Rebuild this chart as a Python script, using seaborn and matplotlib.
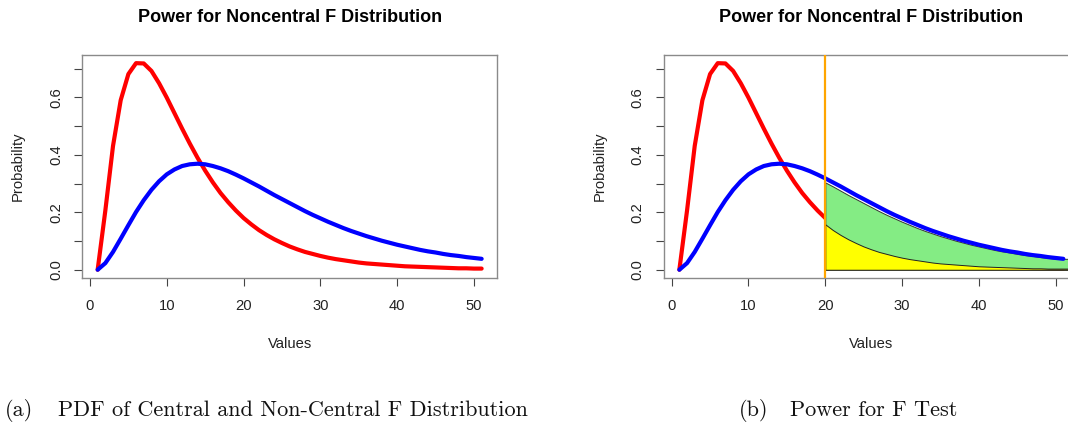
import matplotlib
matplotlib.use("Agg")
import matplotlib.pyplot as plt
import numpy as np
import seaborn as sns

# Valeurs (index 1..51)
valeurs = np.arange(1, 52)
densite_centrale = [
    0.000, 0.206, 0.431, 0.590, 0.681, 0.719, 0.718, 0.692, 0.649, 0.599,
    0.545, 0.491, 0.439, 0.390, 0.345, 0.304, 0.267, 0.235, 0.206, 0.180,
    0.158, 0.138, 0.121, 0.106, 0.093, 0.081, 0.071, 0.062, 0.055, 0.048,
    0.042, 0.037, 0.033, 0.029, 0.025, 0.022, 0.020, 0.018, 0.016, 0.014,
    0.012, 0.011, 0.010, 0.009, 0.008, 0.007, 0.006, 0.005, 0.005, 0.004,
    0.004,
]
densite_non_centrale = [
    0.000, 0.023, 0.062, 0.108, 0.155, 0.201, 0.242, 0.278, 0.308, 0.332,
    0.349, 0.361, 0.367, 0.369, 0.367, 0.361, 0.353, 0.343, 0.331, 0.318,
    0.304, 0.290, 0.275, 0.260, 0.246, 0.232, 0.218, 0.204, 0.191, 0.179,
    0.167, 0.156, 0.145, 0.135, 0.126, 0.117, 0.109, 0.101, 0.094, 0.087,
    0.081, 0.075, 0.069, 0.064, 0.060, 0.055, 0.051, 0.048, 0.044, 0.041,
    0.038,
]
valeur_critique = 20
ticks_x = [0, 10, 20, 30, 40, 50]
ticks_y = [0.0, 0.1, 0.2, 0.3, 0.4, 0.5, 0.6, 0.7]
labels_y = ["0.0", "", "0.2", "", "0.4", "", "0.6", ""]

titre = "Power for Noncentral F Distribution"
legende_a = "PDF of Central and Non-Central F Distribution"
legende_b = "Power for F Test"

sns.set_style("white")
plt.rcParams["font.family"] = ["Liberation Sans", "DejaVu Sans"]

W, H = 1068, 429
fig = plt.figure(figsize=(W / 100, H / 100), dpi=100)


def preparer_axes(x0):
    """Crée un cadre façon R base graphics."""
    ax = fig.add_axes([x0 / W, 1 - 278 / H, 414.7 / W, 223.1 / H])
    ax.set_xlim(-1, 53)
    ax.set_ylim(-0.02876, 0.74774)
    ax.set_xticks(ticks_x)
    ax.set_xticklabels([str(t) for t in ticks_x])
    ax.set_yticks(ticks_y)
    ax.set_yticklabels(labels_y, rotation=90, va="center")
    ax.tick_params(bottom=True, left=True, length=6.1, width=0.8,
                   color="#444444", labelsize=10.6, labelcolor="#222222")
    ax.tick_params(axis="x", pad=9)
    ax.tick_params(axis="y", pad=7.8)
    for s in ax.spines.values():
        s.set_visible(True)
        s.set_color("#8a8a8a")
        s.set_linewidth(1.0)
    ax.set_xlabel("")
    ax.set_ylabel("")
    cx = x0 + 414.7 / 2
    fig.text(cx / W, 1 - 17.3 / H, titre, ha="center", va="center",
             fontsize=13, fontweight="bold", color="black")
    fig.text(cx / W, 1 - 344 / H, "Values", ha="center", va="center",
             fontsize=10.6, color="#222222")
    fig.text((x0 - 64.6) / W, 1 - 166 / H, "Probability", ha="center",
             va="center", rotation=90, fontsize=10.6, color="#222222")
    return ax


# (a) densités centrale et non centrale
ax1 = preparer_axes(82.3)
sns.lineplot(x=valeurs, y=densite_centrale, color="#FF0000", linewidth=3,
             ax=ax1, zorder=3)
sns.lineplot(x=valeurs, y=densite_non_centrale, color="#0000FF", linewidth=3,
             ax=ax1, zorder=4)

# (b) puissance du test F
ax2 = preparer_axes(664)
sns.lineplot(x=valeurs, y=densite_centrale, color="#FF0000", linewidth=3,
             ax=ax2, zorder=2)

# zones au-delà de la valeur critique (décalées d'un cran comme dans l'original,
# prolongées jusqu'au bord droit)
x_zone = np.arange(valeur_critique, 53)
haut_vert = np.append(densite_non_centrale[valeur_critique:], [densite_non_centrale[-1]] * 2)
haut_jaune = np.append(densite_centrale[valeur_critique:], [densite_centrale[-1]] * 2)
ax2.fill_between(x_zone, 0, haut_vert, facecolor="#84EC84", edgecolor="#333333",
                 linewidth=0.7, zorder=3)
ax2.fill_between(x_zone, 0, haut_jaune, facecolor="#FFFF00", edgecolor="#222222",
                 linewidth=0.7, zorder=4)
sns.lineplot(x=valeurs, y=densite_non_centrale, color="#0000FF", linewidth=3,
             ax=ax2, zorder=5)
ax2.axvline(valeur_critique, color="#FFA500", linewidth=1.6, zorder=6)

# légendes des sous-figures
cap = dict(fontfamily="cmr10", fontsize=16, va="center", color="#111111")
fig.text(5 / W, 1 - 410 / H, "(a)", **cap)
fig.text(58 / W, 1 - 410 / H, legende_a, **cap)
fig.text(739 / W, 1 - 410 / H, "(b)", **cap)
fig.text(790 / W, 1 - 410 / H, legende_b, **cap)

fig.savefig("out.png", dpi=100)
